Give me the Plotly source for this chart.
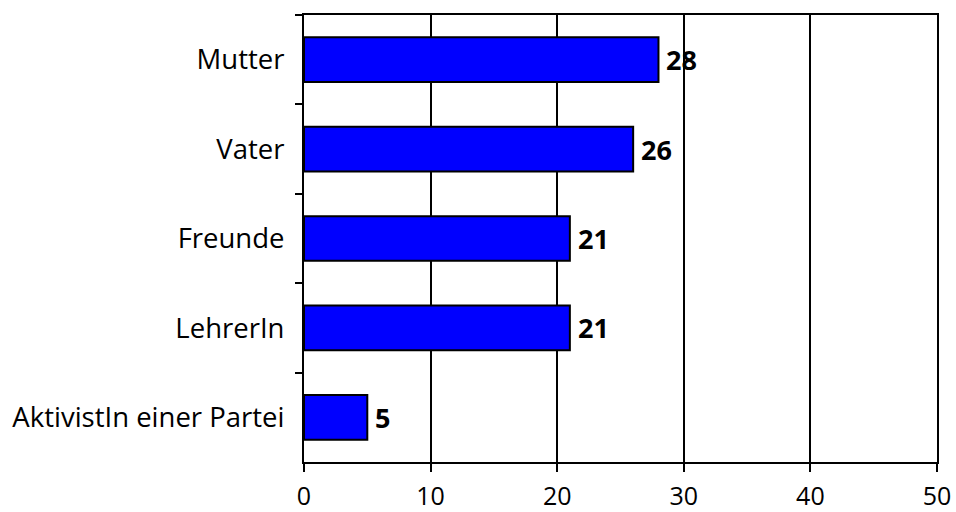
import plotly.graph_objects as go

# Survey answers: who influenced the respondent's political views (percent)
categories = ["Mutter", "Vater", "Freunde", "LehrerIn", "AktivistIn einer Partei"]
values = [28, 26, 21, 21, 5]
x_ticks = [0, 10, 20, 30, 40, 50]

FONT = "Open Sans"

fig = go.Figure(
    go.Bar(
        x=values,
        y=categories,
        orientation="h",
        marker=dict(color="#0000FF", line=dict(color="black", width=2)),
        cliponaxis=False,
    )
)

# Bold value labels just right of each bar end
for cat, val in zip(categories, values):
    fig.add_annotation(
        x=val,
        y=cat,
        text=f"<b>{val}</b>",
        showarrow=False,
        xanchor="left",
        yanchor="middle",
        xshift=6,
        font=dict(family=FONT, size=27, color="black"),
    )

fig.update_layout(
    width=956,
    height=512,
    margin=dict(l=304, r=19, t=15, b=50, autoexpand=False),
    paper_bgcolor="white",
    plot_bgcolor="white",
    bargap=0.5,
    showlegend=False,
    font=dict(family=FONT, size=27, color="black"),
)

fig.update_xaxes(
    range=[0, 50],
    tickvals=x_ticks,
    ticks="outside",
    ticklen=8,
    tickwidth=2,
    tickcolor="black",
    showline=True,
    linecolor="black",
    linewidth=2,
    mirror=True,
    showgrid=True,
    gridcolor="black",
    gridwidth=2,
    zeroline=False,
    automargin=False,
    ticklabelstandoff=3,
    tickfont=dict(family=FONT, size=25, color="black"),
)

fig.update_yaxes(
    type="category",
    categoryorder="array",
    categoryarray=categories,
    range=[len(categories) - 0.5, -0.5],
    tickson="boundaries",
    ticks="outside",
    ticklen=7,
    tickwidth=2,
    tickcolor="black",
    showline=True,
    linecolor="black",
    linewidth=2,
    mirror=True,
    showgrid=False,
    zeroline=False,
    automargin=False,
    ticklabelstandoff=12,
    tickfont=dict(family=FONT, size=27.5, color="black"),
)

fig.write_html("out.html")
